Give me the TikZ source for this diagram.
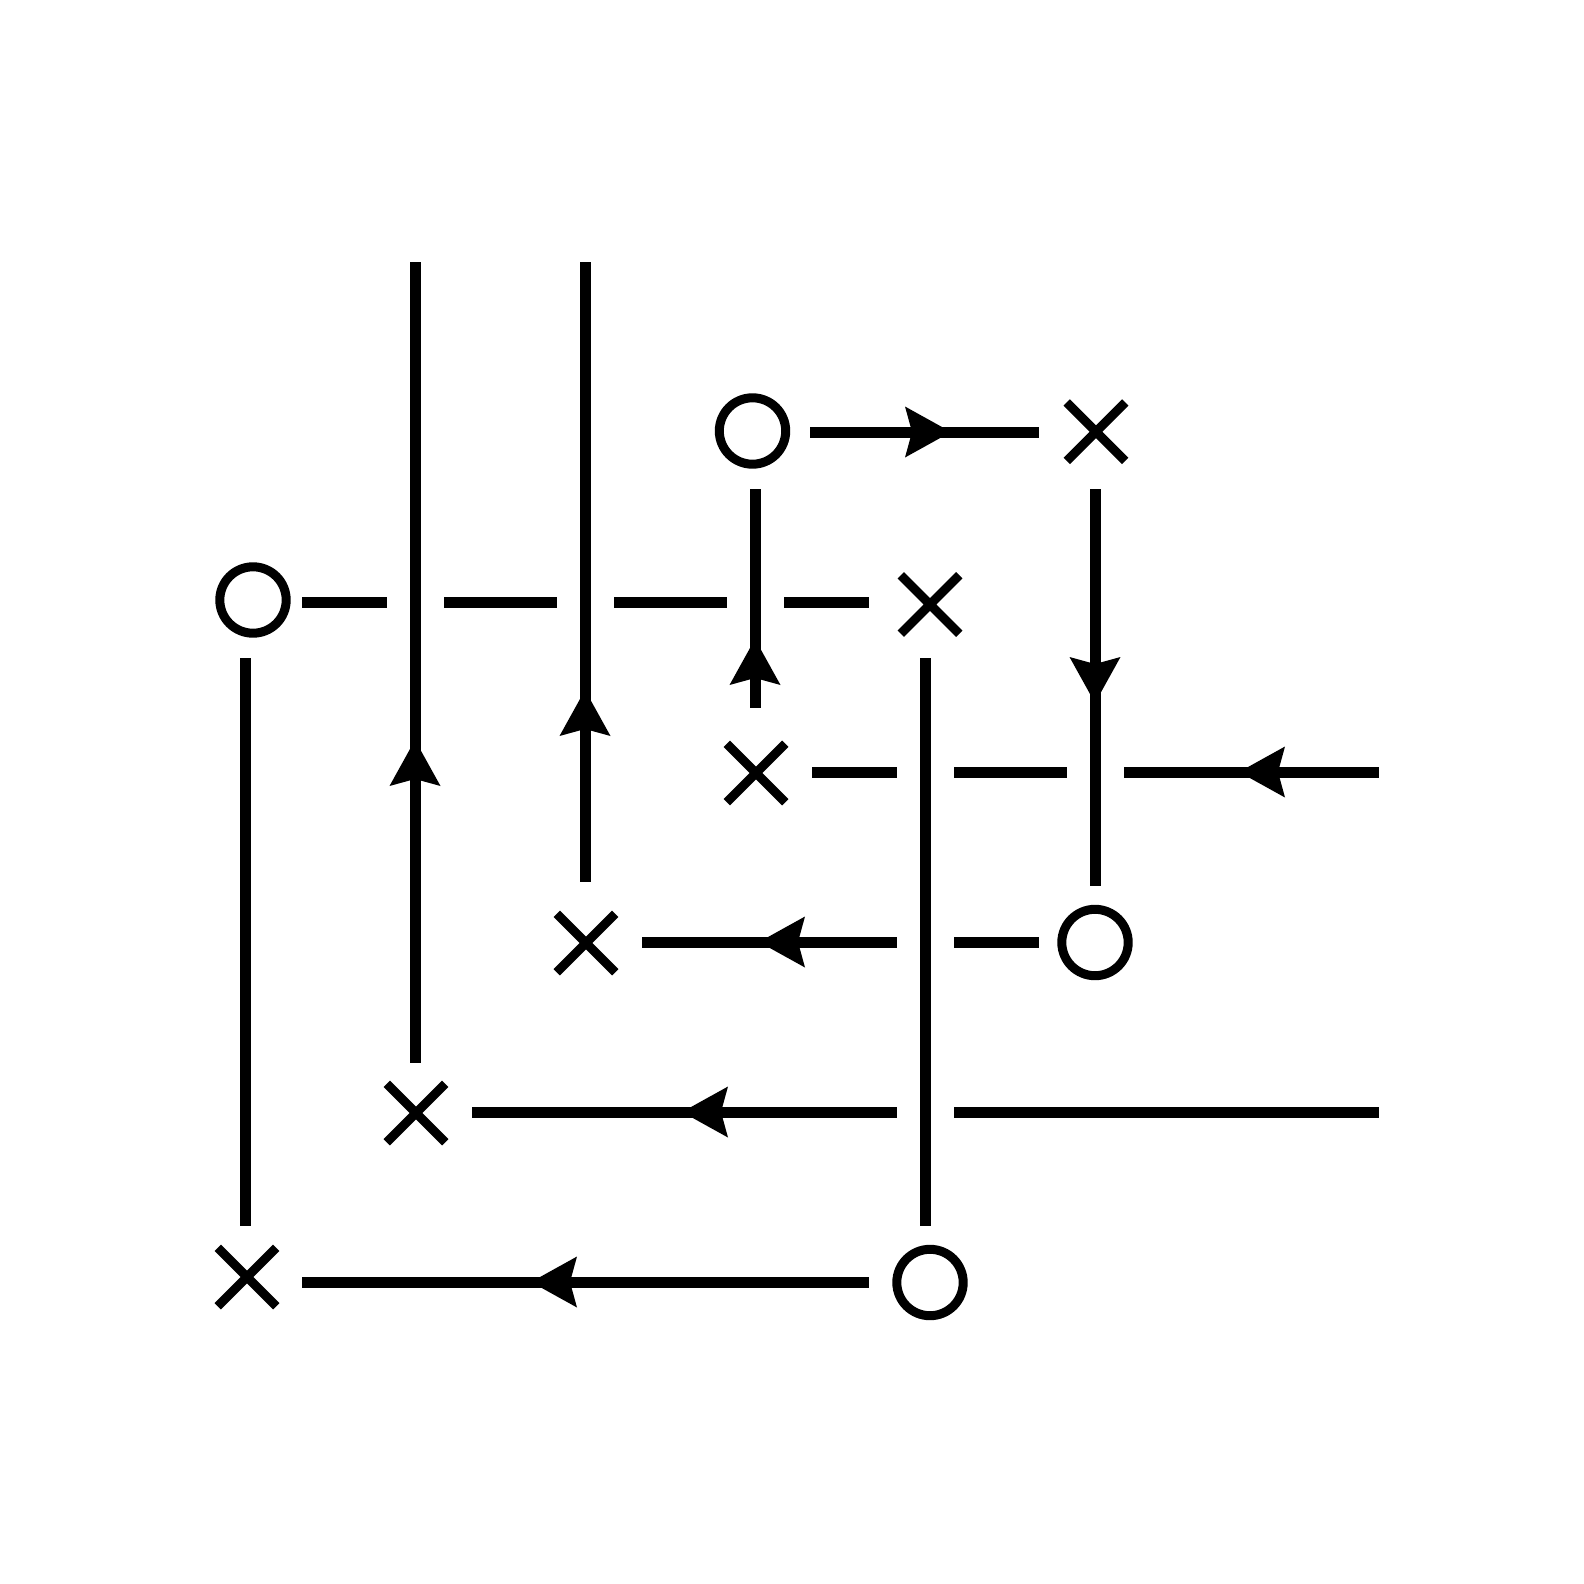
\documentclass[tikz,border=0pt]{standalone}
\usetikzlibrary{shapes.misc}
\begin{document}
\begin{tikzpicture}[x=1pt,y=-1pt,
  strand/.style={line width=11pt,line cap=butt,black},
  omark/.style={circle,draw,line width=9pt,minimum size=66.4pt,inner sep=0pt,outer sep=0pt},
  xmark/.style={cross out,draw,line width=9pt,minimum size=58.5pt,inner sep=0pt,outer sep=0pt},
  arrowhead/.pic={\fill[black] (0,0) -- (-46,-25.5) -- (-39,0) -- (-46,25.5) -- cycle;}]
\fill[white] (0,0) rectangle (1584,1584);
\useasboundingbox (0,0) rectangle (1584,1584);
% markers
\node[omark] (O1) at (752.5,431) {};
\node[xmark] (X1) at (1096,431.7) {};
\node[omark] (O2) at (253,600) {};
\node[xmark] (X2) at (930,604.5) {};
\node[xmark] (X3) at (756,773) {};
\node[xmark] (X4) at (586,943) {};
\node[omark] (O3) at (1095,942.5) {};
\node[xmark] (X5) at (416,1113) {};
\node[xmark] (X6) at (247,1277) {};
\node[omark] (O4) at (930,1282.5) {};
% segment end points
\coordinate (a1) at (810,432); \coordinate (a2) at (1039,432);
\coordinate (b1) at (302,602); \coordinate (b2) at (387,602);
\coordinate (b3) at (444,602); \coordinate (b4) at (557,602);
\coordinate (b5) at (614,602); \coordinate (b6) at (727,602);
\coordinate (b7) at (784,602); \coordinate (b8) at (869,602);
\coordinate (c1) at (812,772); \coordinate (c2) at (897,772);
\coordinate (c3) at (954,772); \coordinate (c4) at (1067,772);
\coordinate (c5) at (1124,772); \coordinate (c6) at (1379,772);
\coordinate (d1) at (642,942); \coordinate (d2) at (897,942);
\coordinate (d3) at (954,942); \coordinate (d4) at (1039,942);
\coordinate (e1) at (472,1112); \coordinate (e2) at (897,1112);
\coordinate (e3) at (954,1112); \coordinate (e4) at (1379,1112);
\coordinate (f1) at (302,1282); \coordinate (f2) at (869,1282);
\coordinate (v0a) at (245,658); \coordinate (v0b) at (245,1226);
\coordinate (v1a) at (415,262); \coordinate (v1b) at (415,1063);
\coordinate (v2a) at (585,262); \coordinate (v2b) at (585,882);
\coordinate (v3a) at (755,489); \coordinate (v3b) at (755,708);
\coordinate (v4a) at (925,658); \coordinate (v4b) at (925,1226);
\coordinate (v5a) at (1095,489); \coordinate (v5b) at (1095,886);
% horizontal strands
\draw[strand] (a1) -- (a2);
\draw[strand] (b1) -- (b2); \draw[strand] (b3) -- (b4);
\draw[strand] (b5) -- (b6); \draw[strand] (b7) -- (b8);
\draw[strand] (c1) -- (c2); \draw[strand] (c3) -- (c4); \draw[strand] (c5) -- (c6);
\draw[strand] (d1) -- (d2); \draw[strand] (d3) -- (d4);
\draw[strand] (e1) -- (e2); \draw[strand] (e3) -- (e4);
\draw[strand] (f1) -- (f2);
% vertical strands
\draw[strand] (v0a) -- (v0b);
\draw[strand] (v1a) -- (v1b);
\draw[strand] (v2a) -- (v2b);
\draw[strand] (v3a) -- (v3b);
\draw[strand] (v4a) -- (v4b);
\draw[strand] (v5a) -- (v5b);
% arrow heads (tip position / direction)
\coordinate (ta) at (951,432);
\coordinate (tc) at (1239,772);
\coordinate (td) at (759,942);
\coordinate (te) at (682,1112);
\coordinate (tf) at (531,1282);
\coordinate (t1) at (415,740);
\coordinate (t2) at (585,690);
\coordinate (t3) at (755,639);
\coordinate (t5) at (1095,703);
\pic[rotate=0]   at (ta) {arrowhead};
\foreach \t in {tc,td,te,tf} \pic[rotate=180] at (\t) {arrowhead};
\foreach \t in {t1,t2,t3} \pic[rotate=90] at (\t) {arrowhead};
\pic[rotate=-90] at (t5) {arrowhead};
\end{tikzpicture}
\end{document}
